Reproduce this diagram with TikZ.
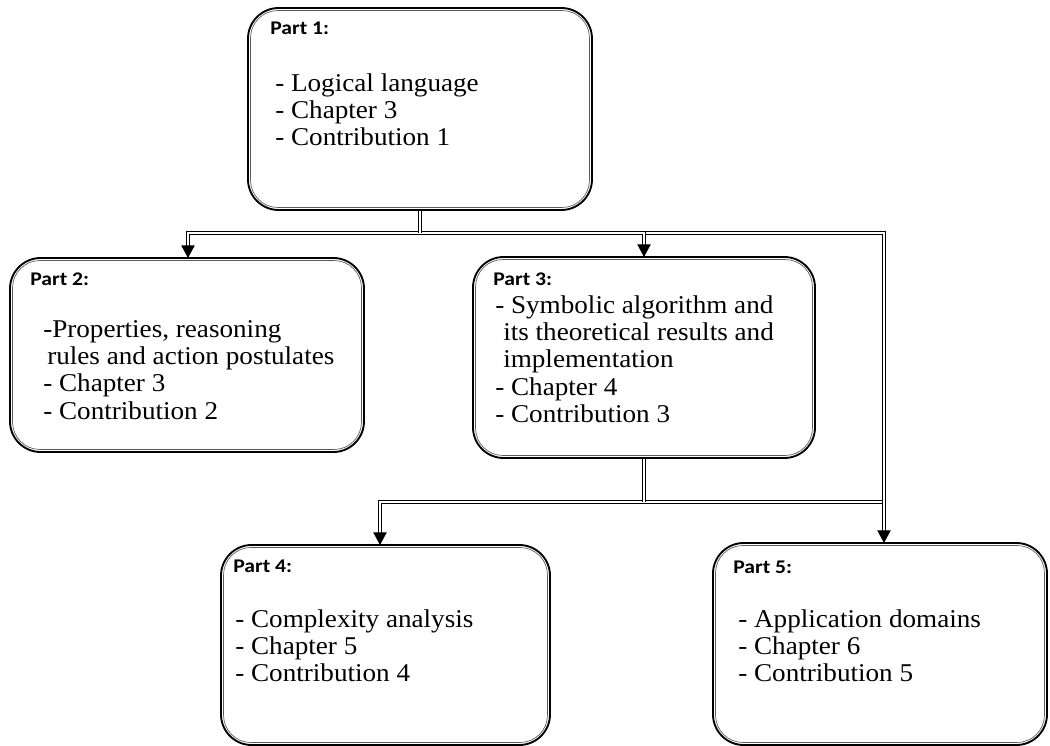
\documentclass[tikz,border=0pt]{standalone}
\usepackage{fontspec}
\usetikzlibrary{arrows.meta}
\newfontfamily\bodyfont{Liberation Serif}[FakeStretch=1.06]
\newfontfamily\titlefont{Carlito}[FakeStretch=1.12]
\tikzset{
  partbox/.style 2 args={draw=black, line width=1.4pt, rounded corners=23pt,
    minimum width=#1*0.75pt, minimum height=#2*0.75pt, inner sep=0pt},
  innerline/.style={draw=black!65, line width=0.5pt, rounded corners=20.5pt},
  ptitle/.style={anchor=base west, inner sep=0pt, font=\titlefont\bfseries\fontsize{14.5}{17}\selectfont},
  pbody/.style={anchor=base west, inner sep=0pt, font=\bodyfont\fontsize{19.2}{20.6}\selectfont},
  conn/.style={draw=black, line width=0.6pt, double=white, double distance=1.6pt, shorten >=8pt},
  joinline/.style={draw=black, line width=0.6pt, double=white, double distance=1.6pt},
  tipline/.style={draw=black, line width=0.8pt, -{Triangle[width=10pt,length=9.5pt]}}
}
\begin{document}
\begin{tikzpicture}[x=0.75pt,y=-0.75pt]
\useasboundingbox (0,0) rectangle (1050,746);
% boxes
\node[partbox={344}{202}] (p1) at (420,109) {};
\node[partbox={354}{194}] (p2) at (187,355) {};
\node[partbox={342}{201}] (p3) at (644,357.5) {};
\node[partbox={329}{200}] (p4) at (385.5,645) {};
\node[partbox={334}{202}] (p5) at (880,644) {};
\foreach \b in {p1,p2,p3,p4,p5}{
  \draw[innerline] ([shift={(2.6pt,2.6pt)}]\b.south west) rectangle ([shift={(-2.6pt,-2.6pt)}]\b.north east);
}
% texts
\node[ptitle] (t1) at (270,35) {Part 1:};
\node[pbody] (b1) at (275,91) {\begin{tabular}[t]{@{}l@{}}- Logical language\\- Chapter 3\\- Contribution 1\end{tabular}};
\node[ptitle] (t2) at (30,285) {Part 2:};
\node[pbody] (b2) at (43,337) {\begin{tabular}[t]{@{}l@{}}-Properties, reasoning\\\hspace*{3pt}rules and action postulates\\- Chapter 3\\- Contribution 2\end{tabular}};
\node[ptitle] (t3) at (493,285) {Part 3:};
\node[pbody] (b3) at (495,313) {\begin{tabular}[t]{@{}l@{}}- Symbolic algorithm and\\\hspace*{6pt}its theoretical results and\\\hspace*{6pt}implementation\\- Chapter 4\\- Contribution 3\end{tabular}};
\node[ptitle] (t4) at (233,572) {Part 4:};
\node[pbody] (b4) at (235,627) {\begin{tabular}[t]{@{}l@{}}- Complexity analysis\\- Chapter 5\\- Contribution 4\end{tabular}};
\node[ptitle] (t5) at (733,573) {Part 5:};
\node[pbody] (b5) at (738,627) {\begin{tabular}[t]{@{}l@{}}- Application domains\\- Chapter 6\\- Contribution 5\end{tabular}};
% connector points
\coordinate (h1) at (420,233);
\coordinate (h3) at (644,502);
\coordinate (a2) at (188,258);
\coordinate (a3) at (644,257);
\coordinate (a4) at (380,545);
\coordinate (a5) at (884,543);
% connectors
\draw[joinline] (h3) -- (h3 -| a5);
\draw[conn] (h3) -| (a4);
\draw[conn] (h1) -| (a5);
\draw[conn] (h1) -| (a2);
\draw[conn] (h1) -| (a3);
\draw[joinline] (p1.south) -- (h1);
\draw[joinline] (p3.south) -- (h3);
% arrow tips
\foreach \a in {a2,a3,a4,a5}{
  \draw[tipline] ([yshift=9pt]\a) -- (\a);
}
\end{tikzpicture}
\end{document}
